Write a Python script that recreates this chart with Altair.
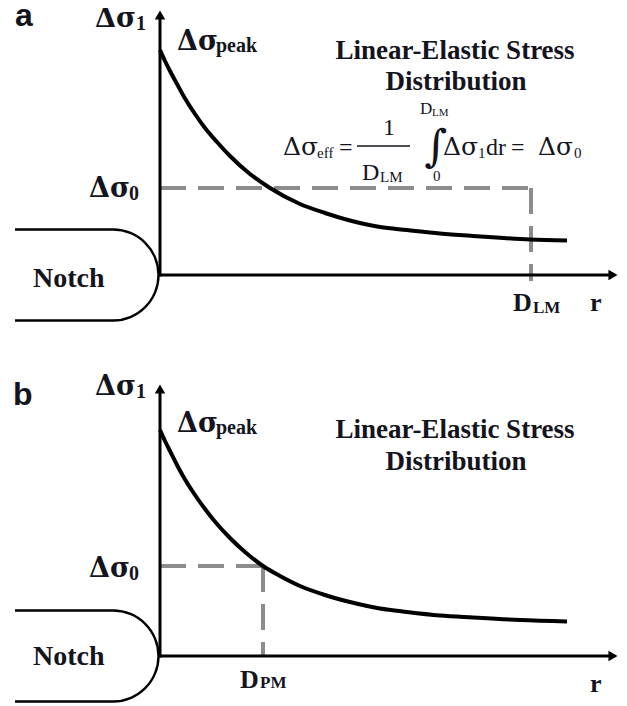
import math
import altair as alt
import pandas as pd

# ---------------- data (r = distance from notch root, s = stress; schematic units) -------------
curve_r_a = [0.00, 0.05, 0.10, 0.17, 0.23, 0.35, 0.45, 0.57, 0.70, 0.90, 1.10, 1.40, 1.65,
             1.90, 2.20, 2.47, 2.80, 3.13, 3.40, 3.70, 4.07]
curve_s_a = [2.25, 2.14, 2.04, 1.91, 1.80, 1.61, 1.47, 1.33, 1.19, 1.01, 0.87, 0.71, 0.62,
             0.545, 0.48, 0.45, 0.415, 0.39, 0.372, 0.355, 0.345]
curve_r_b = [0.00, 0.05, 0.10, 0.17, 0.23, 0.35, 0.45, 0.57, 0.70, 0.85, 1.03, 1.20, 1.40,
             1.65, 1.90, 2.20, 2.47, 2.80, 3.13, 3.60, 4.07]
curve_s_b = [2.26, 2.15, 2.05, 1.91, 1.80, 1.61, 1.47, 1.32, 1.18, 1.04, 0.90, 0.80, 0.70,
             0.61, 0.54, 0.475, 0.44, 0.405, 0.385, 0.36, 0.345]

sigma0_a, D_LM = 0.87, 3.71      # effective stress and critical distance (line method)
sigma0_b, D_PM = 0.90, 1.03      # point method distance

x_axis_end, x_arrow = 4.50, 4.53
y_axis_end_a, y_arrow_a = 2.58, 2.60
y_axis_end_b, y_arrow_b = 2.65, 2.67

notch_left, notch_center, notch_half = -1.45, -0.47, 0.455

X_DOM = [-1.52, 4.59]
Y_DOM_A = [-4.30, 2.67]     # view window of panel a in its own stress units
Y_DOM_B = [-0.49, 6.48]     # view window of panel b in its own stress units

labels_a = {
    "panel": [("a", -1.45, 2.49)],
    "sym": [("Δσ", -0.65, 2.48), ("Δσ", 0.17, 2.25), ("Δσ", -0.71, 0.78)],
    "sub": [("1", -0.24, 2.45), ("peak", 0.56, 2.23), ("0", -0.31, 0.75)],
    "sub2": [("LM", 3.73, -0.38)],
    "notch": [("Notch", -1.27, -0.12)],
    "title": [("Linear-Elastic Stress", 2.95, 2.16), ("Distribution", 2.96, 1.85)],
    "axis": [("D", 3.53, -0.36), ("r", 4.30, -0.36)],
    "eqsym": [("Δσ", 1.23, 1.20), ("Δσ", 2.83, 1.20), ("Δσ", 3.78, 1.20)],
    "eq": [("=", 1.79, 1.20), ("1", 2.23, 1.40), ("D", 2.02, 0.95), ("dr", 3.26, 1.20),
           ("=", 3.51, 1.20)],
    "eqsub": [("eff", 1.57, 1.17), ("LM", 2.20, 0.93), ("1", 3.18, 1.17), ("0", 4.14, 1.17),
              ("0", 2.73, 0.94)],
    "eqlim": [("D", 2.60, 1.61)],
    "eqlimsub": [("LM", 2.72, 1.59)],
    "integral": [("∫", 2.76, 1.27)],
}
fraction_bar = [(1.97, 2.50, 1.29)]

labels_b = {
    "panel": [("b", -1.47, 2.51)],
    "sym": [("Δσ", -0.65, 2.61), ("Δσ", 0.17, 2.24), ("Δσ", -0.71, 0.79)],
    "sub": [("1", -0.24, 2.58), ("peak", 0.56, 2.22), ("0", -0.31, 0.76)],
    "sub2": [("PM", 1.00, -0.32)],
    "notch": [("Notch", -1.27, -0.09)],
    "title": [("Linear-Elastic Stress", 2.95, 2.18), ("Distribution", 2.96, 1.86)],
    "axis": [("D", 0.80, -0.32), ("r", 4.30, -0.36)],
}

# ---------------- styles ----------------
SERIF = "Liberation Serif, Times New Roman, serif"
SYM = "DejaVu Serif, serif"
INK = "#14141e"
STYLES = {
    "panel": dict(font="Liberation Sans, Arial, sans-serif", fontSize=32, fontWeight="bold",
                  align="left"),
    "sym": dict(font=SYM, fontSize=27, fontWeight="bold", align="left"),
    "sub": dict(font=SERIF, fontSize=20, fontWeight="bold", align="left"),
    "sub2": dict(font=SERIF, fontSize=17, fontWeight="bold", align="left"),
    "notch": dict(font=SERIF, fontSize=28, fontWeight="bold", align="left"),
    "title": dict(font=SERIF, fontSize=27, fontWeight="bold", align="center"),
    "axis": dict(font=SERIF, fontSize=26, fontWeight="bold", align="left"),
    "eqsym": dict(font=SYM, fontSize=25, fontWeight="normal", align="left"),
    "eq": dict(font=SERIF, fontSize=24, fontWeight="normal", align="left"),
    "eqsub": dict(font=SERIF, fontSize=15, fontWeight="normal", align="left"),
    "eqlim": dict(font=SERIF, fontSize=17, fontWeight="normal", align="left"),
    "eqlimsub": dict(font=SERIF, fontSize=11, fontWeight="normal", align="left"),
    "integral": dict(font=SYM, fontSize=44, fontWeight="normal", align="center",
                     baseline="middle"),
}


def panel(curve_r, curve_s, s0, dcrit, ydom, y_end, y_arrow, labels, extra_bar=None,
          vline_bottom=0.0):
    xs = alt.Scale(domain=X_DOM, nice=False, zero=False)
    ys = alt.Scale(domain=ydom, nice=False, zero=False)
    X = lambda f: alt.X(f, type="quantitative", scale=xs, axis=None)
    Y = lambda f: alt.Y(f, type="quantitative", scale=ys, axis=None)

    layers = []
    # notch outline
    notch_lines = pd.DataFrame({"r": [notch_left, notch_left], "r2": [notch_center, notch_center],
                                "s": [notch_half, -notch_half]})
    layers.append(alt.Chart(notch_lines).mark_rule(color="black", strokeWidth=2.4).encode(
        x=X("r"), x2="r2", y=Y("s")))
    notch_arc = pd.DataFrame({"r": [notch_center], "s": [0.0]})
    layers.append(alt.Chart(notch_arc).mark_arc(theta=0, theta2=math.pi, innerRadius=44.3,
                                                 outerRadius=46.7, color="black").encode(
        x=X("r"), y=Y("s")))
    # dashed construction lines
    hdash = pd.DataFrame({"r": [0.0], "r2": [dcrit], "s": [s0]})
    vdash = pd.DataFrame({"r": [dcrit], "s": [s0], "s2": [vline_bottom]})
    dash = dict(color="#8c8c8c", strokeWidth=4, strokeDash=[26, 12])
    layers.append(alt.Chart(hdash).mark_rule(**dash).encode(x=X("r"), x2="r2", y=Y("s")))
    layers.append(alt.Chart(vdash).mark_rule(**dash).encode(x=X("r"), y=Y("s"), y2="s2"))
    # axes
    xax = pd.DataFrame({"r": [-0.015], "r2": [x_axis_end], "s": [0.0]})
    yax = pd.DataFrame({"r": [0.0], "s": [-0.015], "s2": [y_end]})
    layers.append(alt.Chart(xax).mark_rule(color="black", strokeWidth=3).encode(
        x=X("r"), x2="r2", y=Y("s")))
    layers.append(alt.Chart(yax).mark_rule(color="black", strokeWidth=3).encode(
        x=X("r"), y=Y("s"), y2="s2"))
    layers.append(alt.Chart(pd.DataFrame({"r": [x_arrow], "s": [0.0]})).mark_point(
        shape="triangle-right", filled=True, size=110, color="black", opacity=1).encode(
        x=X("r"), y=Y("s")))
    layers.append(alt.Chart(pd.DataFrame({"r": [0.0], "s": [y_arrow]})).mark_point(
        shape="triangle-up", filled=True, size=110, color="black", opacity=1).encode(
        x=X("r"), y=Y("s")))
    # stress curve
    cdf = pd.DataFrame({"r": curve_r, "s": curve_s})
    layers.append(alt.Chart(cdf).mark_line(color="black", strokeWidth=4, interpolate="monotone")
                  .encode(x=X("r"), y=Y("s"), order="r:Q"))
    if extra_bar:
        bdf = pd.DataFrame(extra_bar, columns=["r", "r2", "s"])
        layers.append(alt.Chart(bdf).mark_rule(color=INK, strokeWidth=1.5).encode(
            x=X("r"), x2="r2", y=Y("s")))
    # labels
    for key, items in labels.items():
        st = dict(STYLES[key])
        st.setdefault("baseline", "alphabetic")
        tdf = pd.DataFrame(items, columns=["text", "r", "s"])
        layers.append(alt.Chart(tdf).mark_text(color=INK, **st).encode(
            x=X("r"), y=Y("s"), text="text:N"))
    return alt.layer(*layers)


pa = panel(curve_r_a, curve_s_a, sigma0_a, D_LM, Y_DOM_A, y_axis_end_a, y_arrow_a, labels_a,
           extra_bar=fraction_bar, vline_bottom=-0.06)
pb = panel(curve_r_b, curve_s_b, sigma0_b, D_PM, Y_DOM_B, y_axis_end_b, y_arrow_b, labels_b,
           vline_bottom=0.0)

chart = alt.layer(pa, pb).resolve_scale(y="independent").properties(
    width=611, height=697, padding=0,
    autosize=alt.AutoSizeParams(type="none")).configure_view(stroke=None)

chart.save("out.html", embed_options={"renderer": "svg", "actions": False})
